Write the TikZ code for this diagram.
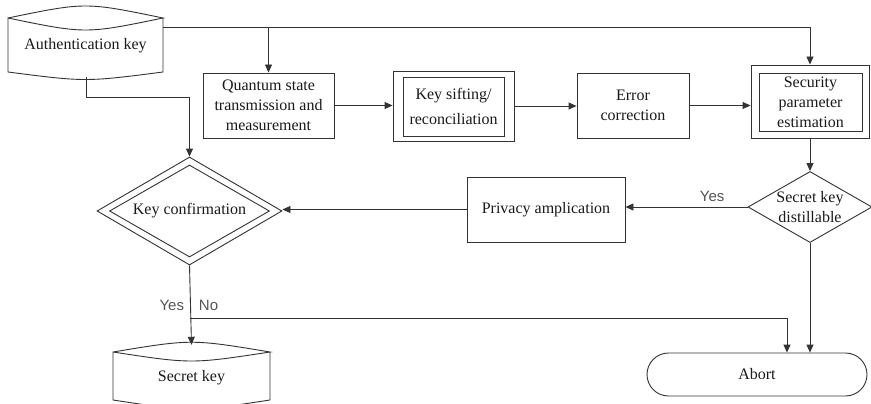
\documentclass[tikz,border=0pt]{standalone}
\usepackage{fontspec}
\setmainfont{Liberation Serif}
\newfontfamily\boxserif{Liberation Serif}
\newfontfamily\labelsans{Liberation Sans}
\usetikzlibrary{arrows.meta,shapes.geometric,calc}
\definecolor{ink}{HTML}{333333}
\definecolor{txt}{HTML}{1A1A1A}
\definecolor{lbl}{HTML}{555555}
\tikzset{
  boxfont/.style={font=\boxserif\fontsize{16}{20}\selectfont},
  outline/.style={draw=ink, line width=0.9pt},
  proc/.style={outline, rectangle, inner sep=0pt, align=center, text=txt, boxfont},
  txtonly/.style={inner sep=0pt, align=center, text=txt, boxfont},
  decision/.style={outline, diamond, aspect=1.7, inner sep=0pt, align=center, text=txt, boxfont},
  link/.style={draw=ink, line width=0.9pt},
  flow/.style={link, -{Triangle[length=8pt,width=7pt]}},
  answer/.style={text=lbl, inner sep=0pt, font=\labelsans\fontsize{15}{18}\selectfont},
}
\begin{document}
\begin{tikzpicture}[x=1pt,y=-1pt]
\useasboundingbox (0,0) rectangle (871,404);
\fill[white] (0,0) rectangle (871,404);

% storage shapes (pointed top, curved base)
\node[txtonly, minimum width=155pt, minimum height=72pt] (auth) at (85.5,46) {Authentication key};
\draw[link] (8,18) .. controls (85.5,2) .. (163,18) .. controls (85.5,34) .. (8,18)
  -- (8,72) .. controls (85.5,82) .. (163,72) -- (163,18);

\node[txtonly, minimum width=157pt, minimum height=66pt] (sk) at (191.5,378) {Secret key};
\draw[link] (113,352) .. controls (191.5,339) .. (270,352) .. controls (191.5,364) .. (113,352)
  -- (113,400) .. controls (191.5,412) .. (270,400) -- (270,352);

% process boxes
\node[proc, minimum width=131pt, minimum height=65pt] (qst) at (268.5,105.5) {Quantum state\\transmission and\\measurement};
\node[proc, minimum width=121pt, minimum height=70pt] (sift) at (453.5,106) {};
\node[proc, minimum width=101pt, minimum height=59pt] (siftin) at (453.5,106.5) {Key sifting/\\[5pt]reconciliation};
\node[proc, minimum width=112pt, minimum height=65pt] (ec) at (633,105.5) {Error\\correction};
\node[proc, minimum width=118pt, minimum height=73pt] (spe) at (810,101.5) {};
\node[proc, minimum width=103pt, minimum height=58pt] (spein) at (810.5,102) {Security\\parameter\\estimation};
\node[proc, minimum width=158pt, minimum height=65pt] (pa) at (546,209.5) {Privacy amplication};
\node[proc, rounded corners=21.5pt, minimum width=220pt, minimum height=43pt] (abort) at (757,374.5) {Abort};

% decisions
\node[decision, minimum width=124pt, minimum height=71pt,
      label={[txtonly]center:Secret key\\distillable}] (skd) at (810,207) {};
\node[decision, minimum width=185pt, minimum height=108pt] (kc) at (189.5,211) {};
\node[decision, minimum width=160pt, minimum height=92pt] (kcin) at (189.5,211) {Key confirmation};

% connectors
\coordinate (authout) at (163,27);
\coordinate (authfoot) at (86,77);
\draw[flow] (authout) -| (spe.north);
\draw[flow] (authout -| qst.north) -- (qst.north);
\draw[flow] (authfoot) -- ++(0,20) -| (kc.north);
\draw[flow] (qst.east) -- (qst.east -| sift.west);
\draw[flow] (sift.east) -- (sift.east -| ec.west);
\draw[flow] (ec.east) -- (ec.east -| spe.west);
\draw[flow] (spe.south) -- (skd.north);
\draw[flow] (skd.west) -- (skd.west -| pa.east)
  node[answer, pos=0.29, above=5pt] {Yes};
\draw[flow] (pa.west) -- (pa.west -| kc.east);
\draw[flow] (kc.south) -- (sk.north)
  node[answer, pos=0.5, left=6pt] {Yes}
  node[answer, pos=0.5, right=8pt] {No};
\path (kc.south) ++(0,53) coordinate (nofork);
\draw[flow] (nofork) -| ($(abort.north)+(30,0)$);
\draw[flow] (skd.south) -- (skd.south |- abort.north);
\end{tikzpicture}
\end{document}
